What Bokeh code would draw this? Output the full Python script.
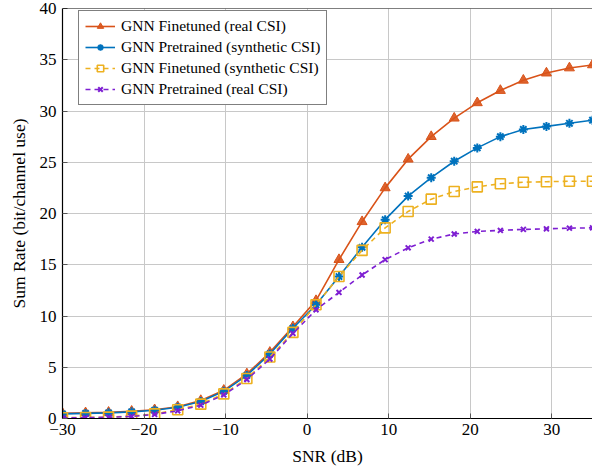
from bokeh.plotting import figure
from bokeh.models import FixedTicker, Legend, LegendItem, Span, Range1d
from bokeh.embed import file_html
from bokeh.resources import INLINE

snr_db = [-30.0, -27.17, -24.35, -21.52, -18.70, -15.87, -13.04, -10.22, -7.39, -4.57,
          -1.74, 1.09, 3.91, 6.74, 9.57, 12.39, 15.22, 18.04, 20.87, 23.70,
          26.52, 29.35, 32.17, 35.0]

finetuned_real = [0.5, 0.55, 0.6, 0.7, 0.85, 1.15, 1.75, 2.75, 4.35, 6.45,
                  8.95, 11.5, 15.5, 19.2, 22.5, 25.3, 27.5, 29.3, 30.8, 32.0,
                  33.0, 33.7, 34.2, 34.5]
pretrained_synth = [0.45, 0.5, 0.55, 0.65, 0.8, 1.1, 1.65, 2.65, 4.2, 6.3,
                    8.8, 11.1, 13.85, 16.7, 19.4, 21.7, 23.5, 25.1, 26.4, 27.5,
                    28.2, 28.5, 28.8, 29.1]
finetuned_synth = [0.07, 0.1, 0.13, 0.23, 0.45, 0.85, 1.4, 2.4, 3.9, 6.0,
                   8.4, 11.1, 13.85, 16.4, 18.6, 20.2, 21.4, 22.15, 22.6, 22.9,
                   23.05, 23.1, 23.15, 23.15]
pretrained_real = [0.06, 0.08, 0.12, 0.2, 0.4, 0.75, 1.3, 2.3, 3.8, 5.8,
                   8.3, 10.6, 12.3, 14.0, 15.5, 16.65, 17.5, 18.0, 18.25, 18.35,
                   18.45, 18.5, 18.57, 18.6]

labels = ["GNN Finetuned (real CSI)", "GNN Pretrained (synthetic CSI)",
          "GNN Finetuned (synthetic CSI)", "GNN Pretrained (real CSI)"]
x_ticks = [-30, -20, -10, 0, 10, 20, 30]
y_ticks = [0, 5, 10, 15, 20, 25, 30, 35, 40]

ORANGE = "#D95319"
BLUE = "#0072BD"
YELLOW = "#EDB120"
PURPLE = "#7E1FD2"
SERIF = "Liberation Serif"

p = figure(width=592, height=470, output_backend="svg", toolbar_location=None,
           x_range=Range1d(-30, 35), y_range=Range1d(0, 40),
           min_border_left=62, min_border_right=0, min_border_top=8, min_border_bottom=52)

p.outline_line_color = None
p.background_fill_color = "white"
p.border_fill_color = "white"

for ax in (p.xaxis[0], p.yaxis[0]):
    ax.axis_line_color = "black"
    ax.axis_line_width = 1.2
    ax.major_tick_in = 5
    ax.major_tick_out = 0
    ax.major_tick_line_color = "#555555"
    ax.minor_tick_line_color = None
    ax.major_label_text_font = SERIF
    ax.major_label_text_font_size = "17px"
    ax.major_label_text_color = "black"
    ax.axis_label_text_font = SERIF
    ax.axis_label_text_font_size = "17.5px"
    ax.axis_label_text_font_style = "normal"
    ax.axis_label_text_color = "black"

p.xaxis.ticker = FixedTicker(ticks=x_ticks)
p.yaxis.ticker = FixedTicker(ticks=y_ticks)
p.xaxis.major_label_overrides = {-30: "\u221230", -20: "\u221220", -10: "\u221210"}
p.xaxis.axis_label = "SNR (dB)"
p.yaxis.axis_label = "Sum Rate (bit/channel use)"
p.xaxis.major_label_standoff = 5
p.xaxis.axis_label_standoff = 8
p.yaxis.major_label_standoff = 6
p.yaxis.axis_label_standoff = 8

p.grid.grid_line_color = "#c8c8c8"
p.grid.grid_line_width = 1

p.add_layout(Span(location=40, dimension="width", line_color="black", line_width=1.2))

r1l = p.line(snr_db, finetuned_real, line_color=ORANGE, line_width=1.6)
r1m = p.scatter(snr_db, finetuned_real, marker="triangle", size=10,
                line_color=ORANGE, fill_color=ORANGE, fill_alpha=0.9)

r2l = p.line(snr_db, pretrained_synth, line_color=BLUE, line_width=1.6)
r2m = p.scatter(snr_db, pretrained_synth, marker="asterisk", size=9,
                line_color=BLUE, line_width=2)

r3l = p.line(snr_db, finetuned_synth, line_color=YELLOW, line_width=1.6, line_dash="5 4")
r3m = p.scatter(snr_db, finetuned_synth, marker="square", size=10,
                line_color=YELLOW, fill_color=None, line_width=1.6)

r4l = p.line(snr_db, pretrained_real, line_color=PURPLE, line_width=1.6, line_dash="5 4")
r4m = p.scatter(snr_db, pretrained_real, marker="x", size=7,
                line_color=PURPLE, line_width=2)

legend = Legend(items=[
    LegendItem(label=labels[0], renderers=[r1l, r1m]),
    LegendItem(label=labels[1], renderers=[r2l, r2m]),
    LegendItem(label=labels[2], renderers=[r3l, r3m]),
    LegendItem(label=labels[3], renderers=[r4l, r4m]),
], location=(16, 313))
legend.label_text_font = SERIF
legend.label_text_font_size = "15.5px"
legend.label_text_color = "black"
legend.border_line_color = "black"
legend.border_line_width = 1
legend.background_fill_alpha = 1
legend.glyph_width = 30
legend.glyph_height = 16
legend.label_height = 16
legend.spacing = 3
legend.padding = 6
legend.margin = 0
legend.label_standoff = 6
p.add_layout(legend)

open("out.html", "w").write(file_html(p, INLINE))
